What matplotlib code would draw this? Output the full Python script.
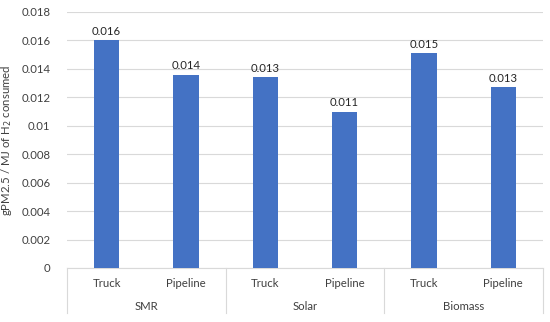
import matplotlib
matplotlib.use("Agg")
import matplotlib.pyplot as plt
from matplotlib.lines import Line2D

plt.rcParams['font.family'] = ['Lato', 'DejaVu Sans']

groups = ["SMR", "Solar", "Biomass"]
modes = ["Truck", "Pipeline"]
values = [0.0160, 0.0136, 0.0134, 0.0110, 0.0151, 0.0127]
labels = ["0.016", "0.014", "0.013", "0.011", "0.015", "0.013"]

W, H = 550, 322
FS = 8.2
fig = plt.figure(figsize=(W / 100, H / 100), dpi=100)
ax = fig.add_axes([67 / W, 1 - 268 / H, (543 - 67) / W, (268 - 12) / H])

x = list(range(len(values)))
bars = ax.bar(x, values, width=0.32, color="#4472C4", zorder=3)
for b, lab in zip(bars, labels):
    ax.text(b.get_x() + b.get_width() / 2, b.get_height() + 0.00025, lab,
            ha="center", va="bottom", fontsize=FS, color="#262626")

ax.set_xlim(-0.5, len(values) - 0.5)
ax.set_ylim(0, 0.018)
yt = [i * 0.002 for i in range(10)]
ax.set_yticks(yt)
ax.set_yticklabels(["0", "0.002", "0.004", "0.006", "0.008", "0.01", "0.012",
                    "0.014", "0.016", "0.018"], fontsize=FS, color="#404040")
ax.grid(axis="y", color="#D9D9D9", linewidth=0.8, zorder=0)
ax.tick_params(axis="y", length=0, pad=12)
ax.tick_params(axis="x", length=0)
ax.set_xticks([])
for s in ["top", "right", "left"]:
    ax.spines[s].set_visible(False)
ax.spines["bottom"].set_color("#D9D9D9")
ax.spines["bottom"].set_linewidth(0.8)

ax.set_ylabel("gPM2.5 / MJ of H$_2$ consumed", fontsize=FS, color="#404040", labelpad=5)

trans = ax.get_xaxis_transform()
for i in x:
    ax.text(i, -0.06, modes[i % 2], transform=trans, ha="center", va="center",
            fontsize=FS, color="#404040")
for g, name in enumerate(groups):
    ax.text(2 * g + 0.5, -0.15, name, transform=trans, ha="center", va="center",
            fontsize=FS, color="#404040")
y_bot = -(313 - 268) / (268 - 12)
for xs in [-0.5, 1.5, 3.5, 5.5]:
    ax.add_line(Line2D([xs, xs], [0, y_bot], transform=trans, color="#D9D9D9",
                       linewidth=0.8, clip_on=False))

fig.savefig("out.png", dpi=100)
